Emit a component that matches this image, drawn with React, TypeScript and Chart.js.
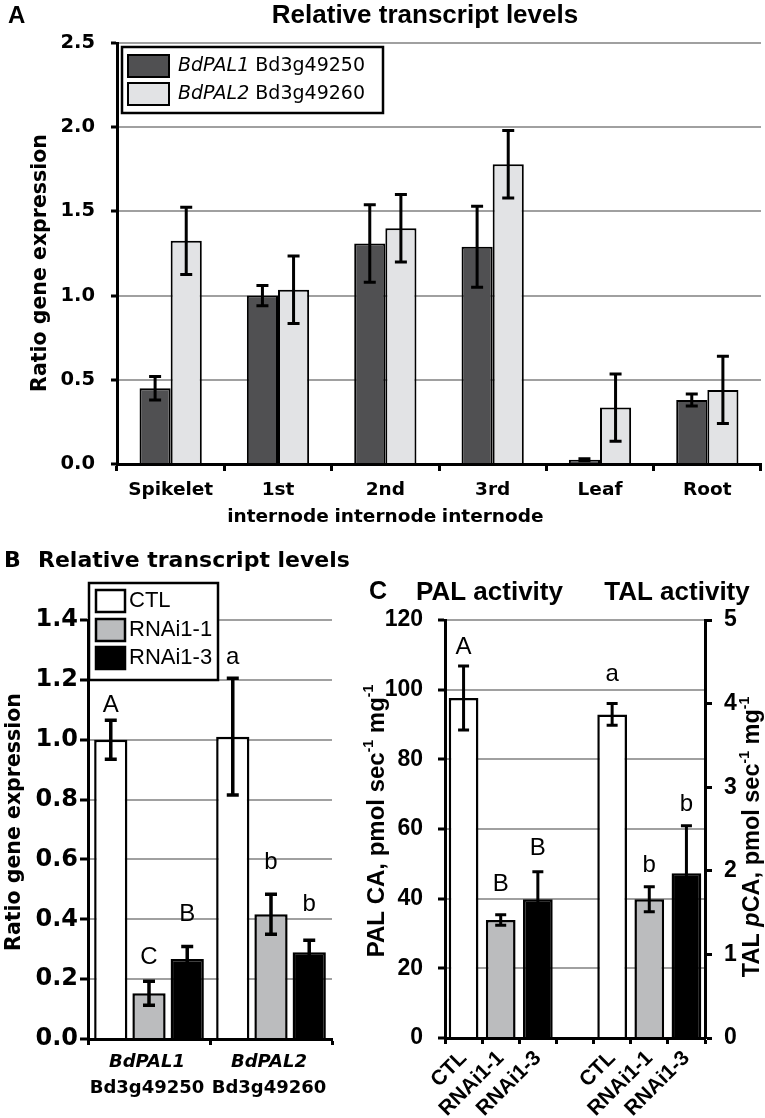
import React, { useEffect, useRef } from "react";
import { Chart, registerables } from "chart.js";
Chart.register(...registerables);

// ---------- Panel A data ----------
const aCategories = [["Spikelet"], ["1st", "internode"], ["2nd", "internode"], ["3rd", "internode"], ["Leaf"], ["Root"]];
const aSeriesGenes = ["BdPAL1", "BdPAL2"];
const aSeriesIds = ["Bd3g49250", "Bd3g49260"];
const aPal1 = [0.45, 1.0, 1.31, 1.29, 0.025, 0.38];
const aPal1Err = [0.07, 0.06, 0.23, 0.24, 0.006, 0.035];
const aPal2 = [1.325, 1.035, 1.4, 1.78, 0.335, 0.44];
const aPal2Err = [0.2, 0.2, 0.2, 0.2, 0.2, 0.2];
const aYTicks = [0, 0.5, 1.0, 1.5, 2.0, 2.5];

// ---------- Panel B data ----------
const bGenes = ["BdPAL1", "BdPAL2"];
const bGeneIds = ["Bd3g49250", "Bd3g49260"];
const bLines = ["CTL", "RNAi1-1", "RNAi1-3"];
const bCtl = [1.0, 1.01];
const bCtlErr = [0.065, 0.195];
const bR11 = [0.153, 0.417];
const bR11Err = [0.04, 0.067];
const bR13 = [0.267, 0.29];
const bR13Err = [0.042, 0.04];
const bCtlLetters = ["A", "a"];
const bR11Letters = ["C", "b"];
const bR13Letters = ["B", "b"];
const bCtlLetterAt = [1.092, 1.253];
const bR11LetterAt = [0.252, 0.568];
const bR13LetterAt = [0.395, 0.428];
const bYTicks = [0, 0.2, 0.4, 0.6, 0.8, 1.0, 1.2, 1.4];

// ---------- Panel C data ----------
const cLines = ["CTL", "RNAi1-1", "RNAi1-3"];
const cPal = [97.6, 33.9, 39.8];
const cPalErr = [9.2, 1.5, 7.9];
const cTal = [3.87, 1.66, 1.97];
const cTalErr = [0.13, 0.15, 0.57];
const cPalLetters = ["A", "B", "B"];
const cTalLetters = ["a", "b", "b"];
const cPalLetterAt = [110.1, 42.1, 52.4];
const cTalLetterAt = [4.27, 1.99, 2.71];
const cPalTicks = [0, 20, 40, 60, 80, 100, 120];
const cTalTicks = [0, 1, 2, 3, 4, 5];

// ---------- styles ----------
const lineColors = ["#ffffff", "#bbbcbe", "#000000"];
const GRID = "#a0a0a0";
const DV = '"DejaVu Sans"';
const LS = '"Liberation Sans", Arial, sans-serif';

type Seg = { t: string; font: string; dy?: number };
function drawRich(ctx: CanvasRenderingContext2D, segs: Seg[], x: number, y: number, rot: number, align: "center" | "left") {
  ctx.save();
  ctx.translate(x, y);
  ctx.rotate(rot);
  let total = 0;
  for (const s of segs) {
    ctx.font = s.font;
    total += ctx.measureText(s.t).width;
  }
  let cx = align === "center" ? -total / 2 : 0;
  ctx.textBaseline = "middle";
  ctx.textAlign = "left";
  ctx.fillStyle = "#000";
  for (const s of segs) {
    ctx.font = s.font;
    ctx.fillText(s.t, cx, s.dy || 0);
    cx += ctx.measureText(s.t).width;
  }
  ctx.restore();
}

function errorBars(cap: number, lw: number) {
  return {
    id: "errorBars",
    afterDatasetsDraw(chart: any) {
      const ctx = chart.ctx;
      chart.data.datasets.forEach((ds: any, i: number) => {
        const meta = chart.getDatasetMeta(i);
        const ys = chart.scales[meta.yAxisID];
        meta.data.forEach((el: any, j: number) => {
          const v = ds.data[j];
          const e = ds.errors ? ds.errors[j] : null;
          if (v == null || e == null) return;
          const yt = ys.getPixelForValue(v + e);
          const yb = ys.getPixelForValue(v - e);
          ctx.save();
          ctx.strokeStyle = "#000";
          ctx.lineWidth = lw;
          ctx.lineCap = "butt";
          ctx.beginPath();
          ctx.moveTo(el.x, yt);
          ctx.lineTo(el.x, yb);
          ctx.moveTo(el.x - cap / 2, yt);
          ctx.lineTo(el.x + cap / 2, yt);
          ctx.moveTo(el.x - cap / 2, yb);
          ctx.lineTo(el.x + cap / 2, yb);
          ctx.stroke();
          ctx.restore();
        });
      });
    },
  };
}

function letterPlugin(font: string) {
  return {
    id: "letters",
    afterDatasetsDraw(chart: any) {
      const ctx = chart.ctx;
      chart.data.datasets.forEach((ds: any, i: number) => {
        if (!ds.letters) return;
        const meta = chart.getDatasetMeta(i);
        const ys = chart.scales[meta.yAxisID];
        meta.data.forEach((el: any, j: number) => {
          const L = ds.letters[j];
          if (!L) return;
          ctx.save();
          ctx.font = font;
          ctx.fillStyle = "#000";
          ctx.textAlign = "center";
          ctx.textBaseline = "alphabetic";
          ctx.fillText(L, el.x, ys.getPixelForValue(ds.letterAt[j]));
          ctx.restore();
        });
      });
    },
  };
}

function configA(): any {
  const decor = {
    id: "decorA",
    afterDraw(chart: any) {
      const ctx = chart.ctx;
      drawRich(ctx, [{ t: "A", font: `bold 24px ${LS}` }], 8, 16, 0, "left");
      drawRich(ctx, [{ t: "Relative transcript levels", font: `bold 26px ${LS}` }], 425, 16, 0, "center");
      drawRich(ctx, [{ t: "Ratio gene expression", font: `bold 20.5px ${DV}` }], 41, 263, -Math.PI / 2, "center");
      // legend
      ctx.save();
      ctx.fillStyle = "#fff";
      ctx.fillRect(122, 47, 261, 66);
      ctx.strokeStyle = "#000";
      ctx.lineWidth = 2.5;
      ctx.strokeRect(122, 47, 261, 66);
      const cols = ["#505052", "#e2e3e5"];
      const rowsY = [66, 94];
      for (let i = 0; i < 2; i++) {
        ctx.fillStyle = cols[i];
        ctx.fillRect(128, rowsY[i] - 11, 41, 22);
        ctx.lineWidth = 2;
        ctx.strokeStyle = "#000";
        ctx.strokeRect(128, rowsY[i] - 11, 41, 22);
        drawRich(
          ctx,
          [
            { t: aSeriesGenes[i], font: `italic 19px ${DV}` },
            { t: " " + aSeriesIds[i], font: `19px ${DV}` },
          ],
          178,
          rowsY[i],
          0,
          "left"
        );
      }
      ctx.restore();
    },
  };
  return {
    type: "bar",
    data: {
      labels: aCategories,
      datasets: [
        { label: aSeriesGenes[0], data: aPal1, errors: aPal1Err, backgroundColor: "#505052", borderColor: "#000", borderWidth: 2 },
        { label: aSeriesGenes[1], data: aPal2, errors: aPal2Err, backgroundColor: "#e2e3e5", borderColor: "#000", borderWidth: 2 },
      ],
    },
    options: {
      animation: false,
      responsive: false,
      layout: { padding: { left: 0, top: 43, right: 4, bottom: 0 } },
      plugins: { legend: { display: false }, tooltip: { enabled: false } },
      datasets: { bar: { categoryPercentage: 0.58, barPercentage: 1 } },
      scales: {
        x: {
          grid: { drawOnChartArea: false, drawTicks: true, tickLength: 7, tickColor: "#000", tickWidth: 3, offset: true },
          border: { color: "#000", width: 3, z: 1 },
          ticks: { color: "#000", font: { family: DV, size: 18.5, weight: "bold", lineHeight: 1.5 }, padding: 5, autoSkip: false, maxRotation: 0, minRotation: 0 },
          afterFit: (s: any) => { s.height = 76; },
        },
        y: {
          min: 0,
          max: 2.5,
          afterBuildTicks: (s: any) => { s.ticks = aYTicks.map((v) => ({ value: v })); },
          ticks: { color: "#000", font: { family: DV, size: 19.5, weight: "bold" }, padding: 16, callback: (v: any) => Number(v).toFixed(1) },
          grid: { color: GRID, lineWidth: 2, tickColor: "#000", tickWidth: 3, tickLength: 6 },
          border: { color: "#000", width: 3, z: 1 },
          afterFit: (s: any) => { s.width = 117; },
        },
      },
    },
    plugins: [errorBars(12, 3), decor],
  };
}

function configB(): any {
  const decor = {
    id: "decorB",
    afterDraw(chart: any) {
      const ctx = chart.ctx;
      drawRich(ctx, [{ t: "B", font: `bold 22px ${DV}` }], 4, 21, 0, "left");
      drawRich(ctx, [{ t: "Relative transcript levels", font: `bold 22px ${DV}` }], 38, 21, 0, "left");
      drawRich(ctx, [{ t: "Ratio gene expression", font: `bold 20.5px ${DV}` }], 15, 282, -Math.PI / 2, "center");
      const xs = chart.scales.x;
      for (let i = 0; i < bGenes.length; i++) {
        const cx = xs.getPixelForValue(i) - 2;
        drawRich(ctx, [{ t: bGenes[i], font: `italic bold 18px ${DV}` }], cx, 522, 0, "center");
        drawRich(ctx, [{ t: bGeneIds[i], font: `bold 18px ${DV}` }], cx, 548, 0, "center");
      }
      // legend
      ctx.save();
      ctx.fillStyle = "#fff";
      ctx.fillRect(89, 43, 129, 97);
      ctx.strokeStyle = "#000";
      ctx.lineWidth = 2.5;
      ctx.strokeRect(89, 43, 129, 97);
      const rowsY = [61, 90, 118];
      for (let i = 0; i < 3; i++) {
        ctx.fillStyle = lineColors[i];
        ctx.fillRect(96, rowsY[i] - 11, 29, 22);
        ctx.lineWidth = 2.5;
        ctx.strokeStyle = "#000";
        ctx.strokeRect(96, rowsY[i] - 11, 29, 22);
        drawRich(ctx, [{ t: bLines[i], font: `22px ${LS}` }], 129, rowsY[i], 0, "left");
      }
      ctx.restore();
    },
  };
  const mk = (i: number, data: number[], err: number[], letters: string[], at: number[]) => ({
    label: bLines[i], data, errors: err, letters, letterAt: at,
    backgroundColor: lineColors[i], borderColor: "#000", borderWidth: 2.5,
  });
  return {
    type: "bar",
    data: {
      labels: bGenes,
      datasets: [
        mk(0, bCtl, bCtlErr, bCtlLetters, bCtlLetterAt),
        mk(1, bR11, bR11Err, bR11Letters, bR11LetterAt),
        mk(2, bR13, bR13Err, bR13Letters, bR13LetterAt),
      ],
    },
    options: {
      animation: false,
      responsive: false,
      layout: { padding: { left: 0, top: 80, right: 23, bottom: 0 } },
      plugins: { legend: { display: false }, tooltip: { enabled: false } },
      datasets: { bar: { categoryPercentage: 0.94, barPercentage: 0.87 } },
      scales: {
        x: {
          grid: { drawOnChartArea: false, drawTicks: true, tickLength: 6, tickColor: "#000", tickWidth: 3, offset: true },
          border: { color: "#000", width: 3, z: 1 },
          ticks: { display: false },
          afterFit: (s: any) => { s.height = 79; },
        },
        y: {
          min: 0,
          max: 1.4,
          afterBuildTicks: (s: any) => { s.ticks = bYTicks.map((v) => ({ value: v })); },
          ticks: { color: "#000", font: { family: DV, size: 24, weight: "bold" }, padding: 2, callback: (v: any) => Number(v).toFixed(1) },
          grid: { color: GRID, lineWidth: 2, tickColor: "#000", tickWidth: 3, tickLength: 8 },
          border: { color: "#000", width: 3, z: 1 },
          afterFit: (s: any) => { s.width = 88; },
        },
      },
    },
    plugins: [errorBars(12, 3.5), letterPlugin(`24px ${LS}`), decor],
  };
}

function configC(): any {
  const labels = [...cLines, "", ...cLines];
  const colors = [...lineColors, "#ffffff", ...lineColors];
  const pad = (arr: any[], before: number, after: number) => [
    ...Array(before).fill(null), ...arr, ...Array(after).fill(null),
  ];
  const decor = {
    id: "decorC",
    afterDraw(chart: any) {
      const ctx = chart.ctx;
      drawRich(ctx, [{ t: "C", font: `bold 25px ${LS}` }], 23, 52, 0, "center");
      drawRich(ctx, [{ t: "PAL activity", font: `bold 26px ${LS}` }], 134.5, 53, 0, "center");
      drawRich(ctx, [{ t: "TAL activity", font: `bold 26px ${LS}` }], 322, 53, 0, "center");
      const f = `bold 24px ${LS}`;
      const fs = `bold 14px ${LS}`;
      drawRich(
        ctx,
        [
          { t: "PAL CA, pmol sec", font: f },
          { t: "-1", font: fs, dy: -8 },
          { t: " mg", font: f },
          { t: "-1", font: fs, dy: -8 },
        ],
        22, 281, -Math.PI / 2, "center"
      );
      const f2 = `bold 23.5px ${LS}`;
      drawRich(
        ctx,
        [
          { t: "TAL ", font: f2 },
          { t: "p", font: `italic bold 23.5px ${LS}` },
          { t: "CA, pmol sec", font: f2 },
          { t: "-1", font: fs, dy: -8 },
          { t: " mg", font: f2 },
          { t: "-1", font: fs, dy: -8 },
        ],
        398, 297, -Math.PI / 2, "center"
      );
    },
  };
  return {
    type: "bar",
    data: {
      labels,
      datasets: [
        {
          label: "PAL", yAxisID: "y", grouped: false,
          data: pad(cPal, 0, 4), errors: pad(cPalErr, 0, 4),
          letters: pad(cPalLetters, 0, 4), letterAt: pad(cPalLetterAt, 0, 4),
          backgroundColor: colors, borderColor: "#000", borderWidth: 2.5,
        },
        {
          label: "TAL", yAxisID: "y2", grouped: false,
          data: pad(cTal, 4, 0), errors: pad(cTalErr, 4, 0),
          letters: pad(cTalLetters, 4, 0), letterAt: pad(cTalLetterAt, 4, 0),
          backgroundColor: colors, borderColor: "#000", borderWidth: 2.5,
        },
      ],
    },
    options: {
      animation: false,
      responsive: false,
      layout: { padding: { left: 0, top: 80, right: 0, bottom: 0 } },
      plugins: { legend: { display: false }, tooltip: { enabled: false } },
      datasets: { bar: { categoryPercentage: 1, barPercentage: 0.8 } },
      scales: {
        x: {
          grid: { drawOnChartArea: false, drawTicks: true, tickLength: 6, tickColor: "#000", tickWidth: 3, offset: true },
          border: { color: "#000", width: 3, z: 1 },
          ticks: { color: "#000", font: { family: LS, size: 21, weight: "bold" }, padding: 2, autoSkip: false, maxRotation: 45, minRotation: 45 },
          afterFit: (s: any) => { s.height = 80; },
        },
        y: {
          position: "left",
          min: 0,
          max: 120,
          afterBuildTicks: (s: any) => { s.ticks = cPalTicks.map((v) => ({ value: v })); },
          ticks: { color: "#000", font: { family: LS, size: 23, weight: "bold" }, padding: 15 },
          grid: { color: GRID, lineWidth: 2, tickColor: "#000", tickWidth: 3, tickLength: 7 },
          border: { color: "#000", width: 3, z: 1 },
          afterFit: (s: any) => { s.width = 90; },
        },
        y2: {
          position: "right",
          min: 0,
          max: 5,
          afterBuildTicks: (s: any) => { s.ticks = cTalTicks.map((v) => ({ value: v })); },
          ticks: { color: "#000", font: { family: LS, size: 23, weight: "bold" }, padding: 12 },
          grid: { drawOnChartArea: false, tickColor: "#000", tickWidth: 3, tickLength: 7 },
          border: { color: "#000", width: 3, z: 1 },
          afterFit: (s: any) => { s.width = 60; },
        },
      },
    },
    plugins: [errorBars(11, 3), letterPlugin(`24px ${LS}`), decor],
  };
}

export default function App() {
  const aRef = useRef<HTMLCanvasElement>(null);
  const bRef = useRef<HTMLCanvasElement>(null);
  const cRef = useRef<HTMLCanvasElement>(null);
  useEffect(() => {
    const charts = [
      new Chart(aRef.current as HTMLCanvasElement, configA()),
      new Chart(bRef.current as HTMLCanvasElement, configB()),
      new Chart(cRef.current as HTMLCanvasElement, configC()),
    ];
    return () => charts.forEach((c) => c.destroy());
  }, []);
  return (
    <div style={{ position: "absolute", left: 0, top: 0, width: 765, height: 1118, background: "#fff", overflow: "hidden" }}>
      <canvas ref={aRef} width={765} height={540} style={{ position: "absolute", left: 0, top: 0 }} />
      <canvas ref={bRef} width={355} height={578} style={{ position: "absolute", left: 0, top: 540 }} />
      <canvas ref={cRef} width={410} height={578} style={{ position: "absolute", left: 355, top: 540 }} />
    </div>
  );
}
